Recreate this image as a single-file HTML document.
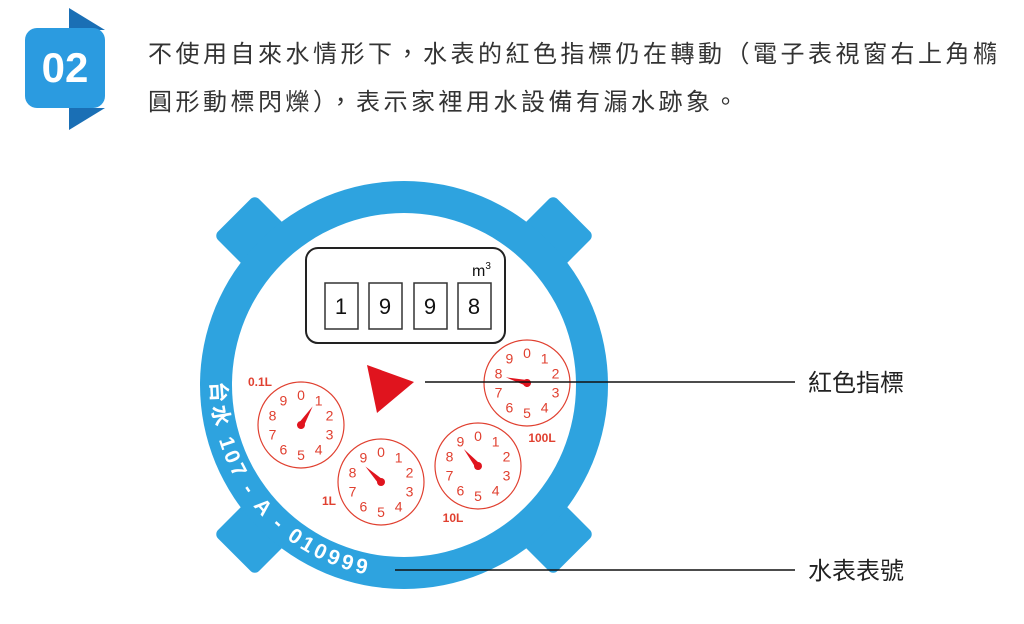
<!DOCTYPE html>
<html><head><meta charset="utf-8"><style>
body{margin:0;width:1024px;height:624px;background:#fff;overflow:hidden;position:relative;font-family:"Liberation Sans","Noto Sans CJK TC",sans-serif}
.t{position:absolute;left:148px;font-size:24px;letter-spacing:3.5px;color:#333;white-space:nowrap;line-height:30px}
</style></head><body>
<svg width="1024" height="624" style="position:absolute;left:0;top:0">
<polygon points="69,8 105,30 69,30" fill="#1a6fb5"/>
<polygon points="69,108 105,108 69,130" fill="#1a6fb5"/>
<rect x="25" y="28" width="80" height="80" rx="12" fill="#2b9be0"/>
<text x="65" y="82" text-anchor="middle" font-family="Liberation Sans,sans-serif" font-weight="bold" font-size="42" fill="#fff">02</text>
<g fill="#2ea3df">
<rect x="-29" y="-62" width="58" height="75" rx="6" transform="translate(404,385) rotate(-45) translate(0,-178)"/>
<rect x="-29" y="-62" width="58" height="75" rx="6" transform="translate(404,385) rotate(45) translate(0,-178)"/>
<rect x="-29" y="-62" width="58" height="75" rx="6" transform="translate(404,385) rotate(135) translate(0,-178)"/>
<rect x="-29" y="-62" width="58" height="75" rx="6" transform="translate(404,385) rotate(-135) translate(0,-178)"/>
<circle cx="404" cy="385" r="204"/>
</g>
<circle cx="404" cy="385" r="172" fill="#fff"/>
<defs><path id="arc" d="M 213,360 A 192,192 0 0 0 470,566"/></defs>
<text font-family="Liberation Sans,'Noto Sans CJK TC',sans-serif" font-weight="bold" font-size="21" fill="#fff" letter-spacing="3.5"><textPath href="#arc" startOffset="22">台水 107 - A - 010999</textPath></text>
<rect x="306" y="248" width="199" height="95" rx="12" fill="#fff" stroke="#222" stroke-width="2"/>
<g fill="#fff" stroke="#333" stroke-width="1.5">
<rect x="325" y="283" width="33" height="46"/><rect x="369" y="283" width="33" height="46"/><rect x="414" y="283" width="33" height="46"/><rect x="458" y="283" width="33" height="46"/>
</g>
<g font-family="Liberation Sans,sans-serif" font-size="22" fill="#111" text-anchor="middle">
<text x="341" y="314">1</text><text x="385" y="314">9</text><text x="430" y="314">9</text><text x="474" y="314">8</text>
</g>
<text x="472" y="276" font-family="Liberation Sans,sans-serif" font-size="16" fill="#111">m<tspan font-size="10" dy="-7">3</tspan></text>
<polygon points="367,365 414,382 377,413" fill="#e0141e"/>
<g font-family="Liberation Sans,sans-serif" font-size="14" fill="#e04030" text-anchor="middle" dominant-baseline="central">
<g transform="translate(301,425)">
<circle r="43" fill="none" stroke="#e04030" stroke-width="1.2"/>
<text x="0" y="-30">0</text><text x="17.6" y="-24.3">1</text><text x="28.5" y="-9.3">2</text><text x="28.5" y="9.3">3</text><text x="17.6" y="24.3">4</text><text x="0" y="30">5</text><text x="-17.6" y="24.3">6</text><text x="-28.5" y="9.3">7</text><text x="-28.5" y="-9.3">8</text><text x="-17.6" y="-24.3">9</text>
<g transform="rotate(32)"><path d="M-3,0 L0,-22 L3,0Z" fill="#e0141e"/><circle r="4" fill="#e0141e"/></g>
</g>
<g transform="translate(381,482)">
<circle r="43" fill="none" stroke="#e04030" stroke-width="1.2"/>
<text x="0" y="-30">0</text><text x="17.6" y="-24.3">1</text><text x="28.5" y="-9.3">2</text><text x="28.5" y="9.3">3</text><text x="17.6" y="24.3">4</text><text x="0" y="30">5</text><text x="-17.6" y="24.3">6</text><text x="-28.5" y="9.3">7</text><text x="-28.5" y="-9.3">8</text><text x="-17.6" y="-24.3">9</text>
<g transform="rotate(-45)"><path d="M-3,0 L0,-22 L3,0Z" fill="#e0141e"/><circle r="4" fill="#e0141e"/></g>
</g>
<g transform="translate(478,466)">
<circle r="43" fill="none" stroke="#e04030" stroke-width="1.2"/>
<text x="0" y="-30">0</text><text x="17.6" y="-24.3">1</text><text x="28.5" y="-9.3">2</text><text x="28.5" y="9.3">3</text><text x="17.6" y="24.3">4</text><text x="0" y="30">5</text><text x="-17.6" y="24.3">6</text><text x="-28.5" y="9.3">7</text><text x="-28.5" y="-9.3">8</text><text x="-17.6" y="-24.3">9</text>
<g transform="rotate(-40)"><path d="M-3,0 L0,-22 L3,0Z" fill="#e0141e"/><circle r="4" fill="#e0141e"/></g>
</g>
<g transform="translate(527,383)">
<circle r="43" fill="none" stroke="#e04030" stroke-width="1.2"/>
<text x="0" y="-30">0</text><text x="17.6" y="-24.3">1</text><text x="28.5" y="-9.3">2</text><text x="28.5" y="9.3">3</text><text x="17.6" y="24.3">4</text><text x="0" y="30">5</text><text x="-17.6" y="24.3">6</text><text x="-28.5" y="9.3">7</text><text x="-28.5" y="-9.3">8</text><text x="-17.6" y="-24.3">9</text>
<g transform="rotate(-75)"><path d="M-3,0 L0,-22 L3,0Z" fill="#e0141e"/><circle r="4" fill="#e0141e"/></g>
</g>
<text x="260" y="382" font-size="12" font-weight="bold">0.1L</text>
<text x="329" y="501" font-size="12" font-weight="bold">1L</text>
<text x="453" y="518" font-size="12" font-weight="bold">10L</text>
<text x="542" y="438" font-size="12" font-weight="bold">100L</text>
</g>
<line x1="425" y1="382" x2="795" y2="382" stroke="#111" stroke-width="1.5"/>
<line x1="395" y1="570" x2="795" y2="570" stroke="#111" stroke-width="1.5"/>
<g font-family="Liberation Sans,'Noto Sans CJK TC',sans-serif" font-size="24" fill="#222">
<text x="808" y="391">紅色指標</text>
<text x="808" y="579">水表表號</text>
</g>
</svg>
<div class="t" style="top:40px">不使用自來水情形下，水表的紅色指標仍在轉動（電子表視窗右上角橢</div>
<div class="t" style="top:88px">圓形動標閃爍），表示家裡用水設備有漏水跡象。</div>
</body></html>
